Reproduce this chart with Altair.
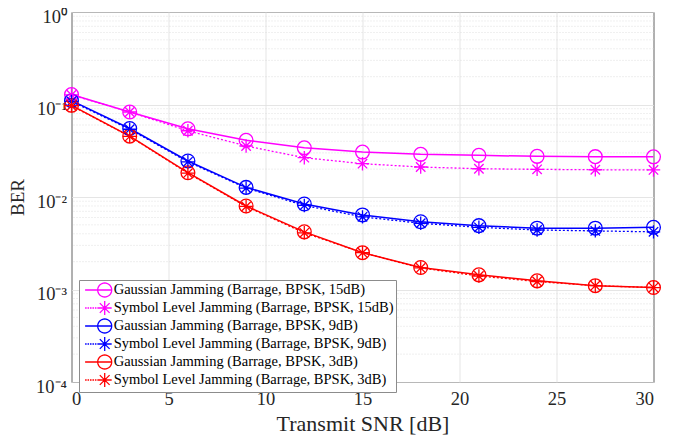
import json
import math
import altair as alt
import pandas as pd

# ---------------- data ----------------
snr = [0, 3, 6, 9, 12, 15, 18, 21, 24, 27, 30]

gauss_15 = [0.128, 0.083, 0.0546, 0.041, 0.034, 0.0306, 0.0289, 0.0282, 0.0275, 0.0273, 0.0272]
sym_15 = [0.127, 0.083, 0.052, 0.0356, 0.0266, 0.0229, 0.0211, 0.0202, 0.0199, 0.0197, 0.0196]
gauss_9 = [0.110, 0.055, 0.0245, 0.0127, 0.0084, 0.0064, 0.0054, 0.0049, 0.0046, 0.0046, 0.0047]
sym_9 = [0.108, 0.054, 0.024, 0.0125, 0.0081, 0.0061, 0.0052, 0.0047, 0.0044, 0.0043, 0.0042]
gauss_3 = [0.098, 0.0455, 0.0183, 0.0080, 0.0042, 0.0025, 0.00173, 0.00144, 0.00124, 0.0011, 0.00105]
sym_3 = [0.097, 0.0452, 0.0181, 0.0079, 0.0041, 0.0025, 0.00171, 0.0014, 0.00122, 0.0011, 0.00105]

series_names = [
    "Gaussian Jamming (Barrage, BPSK, 15dB)",
    "Symbol Level Jamming (Barrage, BPSK, 15dB)",
    "Gaussian Jamming (Barrage, BPSK, 9dB)",
    "Symbol Level Jamming (Barrage, BPSK, 9dB)",
    "Gaussian Jamming (Barrage, BPSK, 3dB)",
    "Symbol Level Jamming (Barrage, BPSK, 3dB)",
]
series_values = [gauss_15, sym_15, gauss_9, sym_9, gauss_3, sym_3]
gauss_names = series_names[0::2]
sym_names = series_names[1::2]

x_ticks = [0, 5, 10, 15, 20, 25, 30]
y_ticks = [0.0001, 0.001, 0.01, 0.1, 1]
y_tick_labels = ["10\u207b\u2074", "10\u207b\u00b3", "10\u207b\u00b2", "10\u207b\u00b9", "10\u2070"]
y_minor = [m * 10.0 ** e for e in (-4, -3, -2, -1) for m in range(2, 10)]

# ---------------- styles ----------------
colors = ["#FF00FF", "#FF00FF", "#0000FF", "#0000FF", "#FF0000", "#FF0000"]
AST = "M -1 0 L 1 0 M 0 -1 L 0 1 M -0.7 -0.7 L 0.7 0.7 M -0.7 0.7 L 0.7 -0.7"
_poly = " ".join(
    ("M" if i == 0 else "L") + f" {math.cos(2 * math.pi * i / 32):.3f} {math.sin(2 * math.pi * i / 32):.3f}"
    for i in range(32)
) + " Z"
LEG_CIRC = _poly + " M -2.8 0 L 1 0"
LEG_AST = AST + " " + " ".join(
    f"M {a:.2f} 0 L {a + 0.22:.2f} 0" for a in [-2.8, -2.45, -2.1, -1.75, -1.4, -1.05]
)
legend_shapes = [LEG_CIRC, LEG_AST, LEG_CIRC, LEG_AST, LEG_CIRC, LEG_AST]

FONT = "Liberation Serif"
TXT = "#262626"

rows = []
for name, vals in zip(series_names, series_values):
    for s, v in zip(snr, vals):
        rows.append({"snr": s, "ber": v, "series": name})
df = pd.DataFrame(rows)
minor_df = pd.DataFrame({"y": y_minor})

label_map = {str(v): l for v, l in zip(y_ticks, y_tick_labels)}
label_expr = json.dumps(label_map) + "[''+datum.value]"

xs = alt.Scale(domain=[0, 30], nice=False, zero=False)
ys = alt.Scale(type="log", domain=[1e-4, 1], nice=False)

x_axis = alt.Axis(
    values=x_ticks, title="Transmit SNR [dB]", labelFont=FONT, titleFont=FONT,
    labelFontSize=18.5, titleFontSize=22, titleFontWeight="normal", labelColor=TXT,
    titleColor=TXT, grid=True, gridColor="#dedede", gridWidth=0.8, ticks=False,
    domain=False, labelPadding=7, titlePadding=6,
)
y_axis = alt.Axis(
    values=y_ticks, title="BER", labelExpr=label_expr, labelFont=FONT, titleFont=FONT,
    labelFontSize=18.5, titleFontSize=19, titleFontWeight="normal", labelColor=TXT,
    titleColor=TXT, grid=True, gridColor="#dedede", gridWidth=0.8, ticks=False,
    domain=False, labelPadding=5, labelOffset=4, titlePadding=8,
)

leg = alt.Legend(
    title=None, orient="none", legendX=7.5, legendY=268, padding=2,
    labelFont=FONT, labelFontSize=14.5, labelColor="#000", symbolOffset=15.7,
    labelOffset=1, rowPadding=-5.5, fillColor="#ffffff", strokeColor="#8c8c8c",
    symbolSize=196, symbolStrokeWidth=1.3, labelLimit=400,
)

color_enc = alt.Color("series:N", scale=alt.Scale(domain=series_names, range=colors), legend=leg)
X = alt.X("snr:Q", scale=xs, axis=x_axis)
Y = alt.Y("ber:Q", scale=ys, axis=y_axis)

minor = alt.Chart(minor_df).mark_rule(color="#d8d8d8", strokeDash=[1, 2], strokeWidth=0.8).encode(
    y=alt.Y("y:Q", scale=ys, axis=y_axis)
)

gauss_filter = alt.FieldOneOfPredicate(field="series", oneOf=gauss_names)
sym_filter = alt.FieldOneOfPredicate(field="series", oneOf=sym_names)

lines_gauss = alt.Chart(df).transform_filter(gauss_filter).mark_line(strokeWidth=1.5).encode(
    x=X, y=Y, color=color_enc,
)

lines_sym = alt.Chart(df).transform_filter(sym_filter).mark_line(
    strokeWidth=1.3, strokeDash=[2, 2]
).encode(
    x=X, y=Y, color=color_enc,
)

circles = alt.Chart(df).transform_filter(gauss_filter).mark_point(
    size=190, strokeWidth=1.3, filled=False, opacity=1, shape="circle"
).encode(
    x=X, y=Y, color=color_enc,
)

stars = alt.Chart(df).transform_filter(sym_filter).mark_point(
    size=180, strokeWidth=1.3, filled=False, opacity=1, shape=AST
).encode(
    x=X, y=Y, color=color_enc,
)

legend_layer = alt.Chart(df).transform_filter("false").mark_point(
    size=196, strokeWidth=1.3, filled=False, opacity=1
).encode(
    x=X, y=Y,
    color=color_enc,
    shape=alt.Shape("series:N", scale=alt.Scale(domain=series_names, range=legend_shapes), legend=leg),
)

chart = (
    alt.layer(minor, lines_gauss, lines_sym, circles, stars, legend_layer)
    .properties(
        width=582, height=370, autosize="none",
        padding={"left": 63.5, "top": 4, "right": 21, "bottom": 57},
    )
    .configure_view(stroke="#262626", strokeWidth=1)
)

chart.save("out.html", embed_options={"renderer": "svg", "actions": False})
